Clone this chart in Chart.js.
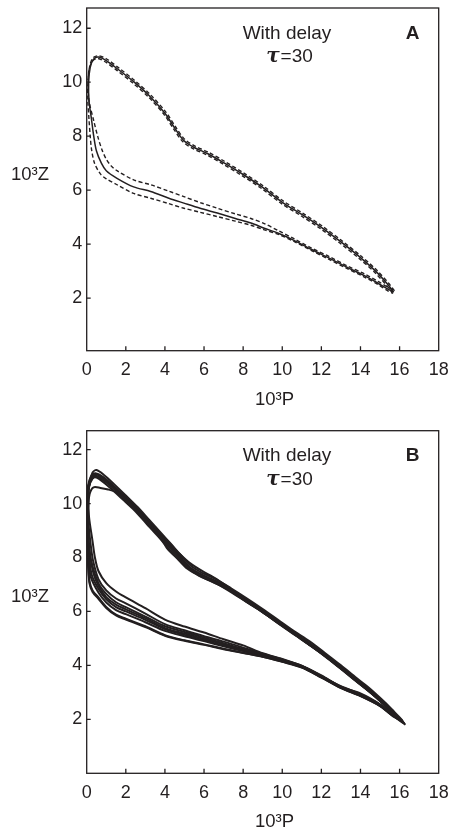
<!DOCTYPE html>
<html>
<head>
<meta charset="utf-8">
<script src="https://cdn.jsdelivr.net/npm/chart.js@4.4.1/dist/chart.umd.min.js"></script>
<style>
  html, body { margin: 0; padding: 0; background: #fff; }
  #wrap { position: relative; width: 457px; height: 829px; }
  canvas { position: absolute; left: 0; }
  #cA { top: 0; }
  #cB { top: 412px; }
</style>
</head>
<body>
<div id="wrap">
  <canvas id="cA" width="457" height="412"></canvas>
  <canvas id="cB" width="457" height="417"></canvas>
</div>
<script>
// ---- axis ticks / labels ----
const xTicks = [0, 2, 4, 6, 8, 10, 12, 14, 16, 18];
const yTicks = [2, 4, 6, 8, 10, 12];
const xTitle = '10³P';
const yTitle = '10³Z';
const noteLine1 = 'With delay';
const noteTau = 'τ';
const noteLine2 = '=30';

// ---- panel A: deterministic cycle (solid) with two dashed bounds, [P, Z] x 10^3 ----
const aSolid = [
  [15.7,2.22],[15.4,2.5],[14.8,2.98],[14.0,3.5],[13.0,4.08],[12.0,4.62],[11.0,5.1],[10.0,5.55],
  [9.0,6.1],[8.0,6.58],[7.0,7.02],[6.2,7.35],[5.5,7.58],[4.95,7.85],[4.5,8.3],[4.0,8.85],
  [3.2,9.5],[2.4,10.02],[1.6,10.48],[1.0,10.8],[0.6,10.93],[0.35,10.85],[0.18,10.55],[0.1,10.0],
  [0.12,9.3],[0.25,8.6],[0.36,8.0],[0.5,7.45],[0.75,7.0],[1.0,6.72],[1.55,6.44],[2.4,6.12],
  [3.27,5.95],[4.2,5.7],[4.97,5.52],[5.8,5.33],[6.68,5.15],[7.6,4.95],[8.4,4.78],[9.08,4.59],
  [9.8,4.4],[10.6,4.14],[11.5,3.8],[12.4,3.48],[13.3,3.15],[14.2,2.83],[14.9,2.55],[15.4,2.33],[15.7,2.22]
];
const aDashHigh = [
  [15.74,2.27],[15.44,2.55],[14.84,3.03],[14.04,3.55],[13.04,4.13],[12.04,4.67],[11.04,5.15],[10.04,5.6],
  [9.04,6.15],[8.04,6.63],[7.04,7.07],[6.24,7.4],[5.54,7.63],[4.99,7.9],[4.54,8.35],[4.04,8.9],
  [3.24,9.55],[2.44,10.07],[1.64,10.53],[1.04,10.85],[0.62,10.98],[0.33,10.91],[0.15,10.58],[0.07,10.0],
  [0.12,9.3],[0.35,8.6],[0.56,8.0],[0.78,7.5],[1.0,7.15],[1.25,6.9],[1.55,6.72],[2.4,6.38],
  [3.27,6.2],[4.2,5.96],[4.97,5.76],[5.8,5.54],[6.68,5.33],[7.6,5.12],[8.4,4.95],[9.08,4.76],
  [9.8,4.5],[10.6,4.2],[11.5,3.85],[12.4,3.54],[13.3,3.2],[14.2,2.9],[14.9,2.62],[15.4,2.4],[15.74,2.27]
];
const aDashLow = [
  [15.66,2.17],[15.36,2.45],[14.76,2.93],[13.96,3.45],[12.96,4.03],[11.96,4.57],[10.96,5.05],[9.96,5.5],
  [8.96,6.05],[7.96,6.53],[6.96,6.97],[6.16,7.3],[5.46,7.53],[4.91,7.8],[4.46,8.25],[3.96,8.8],
  [3.16,9.45],[2.36,9.97],[1.56,10.43],[0.96,10.75],[0.58,10.88],[0.31,10.8],[0.13,10.5],[0.06,10.0],
  [0.06,9.3],[0.12,8.6],[0.18,8.0],[0.25,7.5],[0.4,7.0],[0.7,6.6],[1.0,6.42],[1.55,6.2],
  [2.4,5.88],[3.27,5.7],[4.2,5.5],[4.97,5.33],[5.8,5.18],[6.68,5.02],[7.6,4.85],[8.4,4.7],
  [9.08,4.53],[9.8,4.36],[10.6,4.1],[11.5,3.76],[12.4,3.43],[13.3,3.1],[14.2,2.78],[14.9,2.5],[15.4,2.27],[15.66,2.17]
];

// ---- panel B: stochastic runs, one array per traced loop ----
const bLoop1 = [
  [16.15,1.95],[15.6,2.38],[15.0,2.8],[14.4,3.19],[13.8,3.53],[13.0,4.0],[12.2,4.45],[11.4,4.89],[10.6,5.27],
  [9.8,5.68],[9.0,6.09],[8.2,6.48],[7.4,6.85],[6.6,7.2],[5.9,7.43],[5.3,7.71],[4.8,8.1],[4.3,8.51],[3.8,8.91],
  [3.2,9.39],[2.6,9.87],[2.0,10.3],[1.4,10.72],[0.9,11.05],[0.5,11.24],[0.3,11.15],[0.15,10.8],[0.08,10.2],
  [0.12,9.5],[0.3,8.6],[0.42,8.0],[0.6,7.5],[1.0,7.05],[1.5,6.74],[2.0,6.52],[3.0,6.12],[4.0,5.7],[5.0,5.44],
  [6.0,5.22],[7.0,4.97],[8.0,4.74],[9.0,4.45],[10.0,4.24],[11.0,3.98],[12.0,3.63],[13.0,3.2],[14.0,2.96],
  [15.0,2.56],[15.6,2.22],[16.15,1.95]
];
const bLoop2 = [
  [16.05,1.98],[15.5,2.36],[14.9,2.76],[14.3,3.12],[13.7,3.47],[12.9,3.94],[12.1,4.4],[11.3,4.81],[10.5,5.22],
  [9.7,5.62],[8.9,6.02],[8.1,6.4],[7.3,6.8],[6.5,7.12],[5.8,7.35],[5.2,7.62],[4.7,8.0],[4.2,8.4],[3.7,8.8],
  [3.1,9.3],[2.5,9.78],[1.9,10.2],[1.5,10.42],[1.1,10.52],[0.7,10.58],[0.35,10.6],[0.15,10.35],[0.08,9.8],
  [0.1,9.2],[0.2,8.5],[0.32,7.9],[0.6,7.2],[1.0,6.78],[1.5,6.48],[2.0,6.3],[3.0,5.92],[4.0,5.53],[5.0,5.3],
  [6.0,5.08],[7.0,4.88],[8.0,4.66],[9.0,4.43],[10.0,4.22],[11.0,3.97],[12.0,3.6],[13.0,3.23],[14.0,2.93],
  [15.0,2.54],[15.6,2.2],[16.05,1.98]
];
const bLoop3 = [
  [16.25,1.85],[15.65,2.28],[15.05,2.7],[14.45,3.08],[13.85,3.43],[13.05,3.9],[12.25,4.35],[11.45,4.78],[10.65,5.18],
  [9.85,5.58],[9.05,6.0],[8.25,6.37],[7.45,6.74],[6.65,7.05],[5.95,7.28],[5.4,7.5],[4.9,7.8],[4.4,8.12],[4.1,8.35],
  [3.8,8.7],[3.2,9.22],[2.6,9.72],[2.0,10.15],[1.4,10.55],[0.9,10.86],[0.5,11.0],[0.25,10.9],[0.1,10.55],
  [0.04,9.9],[0.05,9.2],[0.12,8.5],[0.22,7.9],[0.6,7.05],[1.0,6.65],[1.5,6.34],[2.0,6.16],[3.0,5.81],[4.0,5.45],
  [5.0,5.24],[6.0,5.03],[7.0,4.82],[8.0,4.61],[9.0,4.4],[10.0,4.2],[11.0,3.99],[12.0,3.61],[13.0,3.21],
  [14.0,2.91],[15.0,2.55],[15.6,2.21],[16.25,1.85]
];
const bLoop4 = [
  [16.1,1.95],[15.55,2.32],[14.95,2.72],[14.35,3.1],[13.75,3.45],[12.95,3.93],[12.15,4.37],[11.35,4.79],[10.55,5.2],
  [9.75,5.6],[8.95,6.02],[8.15,6.39],[7.35,6.77],[6.55,7.1],[5.85,7.33],[5.25,7.6],[4.75,7.98],[4.25,8.4],[3.75,8.8],
  [3.15,9.28],[2.55,9.76],[1.95,10.18],[1.35,10.58],[0.85,10.88],[0.45,11.03],[0.2,10.9],[0.06,10.5],[0.02,9.9],
  [0.03,9.2],[0.1,8.5],[0.2,7.95],[0.35,7.4],[0.6,6.95],[1.0,6.53],[1.5,6.25],[2.0,6.08],[3.0,5.75],[4.0,5.38],
  [5.0,5.18],[6.0,4.98],[7.0,4.78],[8.0,4.58],[9.0,4.38],[10.0,4.18],[11.0,3.96],[12.0,3.58],[13.0,3.2],
  [14.0,2.9],[15.0,2.53],[15.6,2.19],[16.1,1.95]
];
const bLoop5 = [
  [16.2,1.88],[15.6,2.3],[15.0,2.71],[14.4,3.11],[13.8,3.45],[13.0,3.91],[12.2,4.37],[11.4,4.79],[10.6,5.2],
  [9.8,5.59],[9.0,6.03],[8.2,6.42],[7.4,6.82],[6.6,7.22],[5.9,7.5],[5.3,7.78],[4.8,8.1],[4.3,8.48],[3.8,8.85],
  [3.2,9.32],[2.6,9.8],[2.0,10.22],[1.4,10.62],[0.9,10.93],[0.5,11.08],[0.25,10.98],[0.08,10.6],[0.02,10.0],
  [0.02,9.2],[0.07,8.5],[0.14,7.95],[0.26,7.35],[0.6,6.84],[1.0,6.45],[1.5,6.16],[2.0,6.0],[3.0,5.69],[4.0,5.35],
  [5.0,5.13],[6.0,4.93],[7.0,4.74],[8.0,4.55],[9.0,4.36],[10.0,4.17],[11.0,3.95],[12.0,3.59],[13.0,3.19],
  [14.0,2.89],[15.0,2.52],[15.6,2.18],[16.2,1.88]
];
const bLoop6 = [
  [16.3,1.8],[15.7,2.21],[15.1,2.62],[14.5,3.0],[13.9,3.34],[13.1,3.81],[12.3,4.27],[11.5,4.7],[10.7,5.1],
  [9.9,5.5],[9.1,5.92],[8.3,6.29],[7.5,6.66],[6.7,7.0],[6.0,7.24],[5.4,7.49],[4.9,7.86],[4.4,8.29],[3.9,8.69],
  [3.3,9.18],[2.7,9.67],[2.1,10.09],[1.5,10.5],[1.0,10.8],[0.55,10.98],[0.3,10.92],[0.12,10.6],[0.05,10.05],
  [0.03,9.3],[0.05,8.6],[0.1,8.0],[0.2,7.3],[0.6,6.7],[1.0,6.33],[1.5,6.05],[2.0,5.9],[3.0,5.6],[4.0,5.28],
  [5.0,5.08],[6.0,4.9],[7.0,4.71],[8.0,4.53],[9.0,4.35],[10.0,4.16],[11.0,3.94],[12.0,3.57],[13.0,3.18],
  [14.0,2.88],[15.0,2.51],[15.6,2.17],[16.3,1.8]
];
const bLoop7 = [
  [16.0,2.02],[15.45,2.38],[14.85,2.78],[14.25,3.15],[13.65,3.5],[12.85,3.97],[12.05,4.42],[11.25,4.83],[10.45,5.24],
  [9.65,5.64],[8.85,6.05],[8.05,6.42],[7.25,6.8],[6.45,7.1],[5.75,7.32],[5.15,7.58],[4.65,7.95],[4.15,8.36],[3.65,8.78],
  [3.05,9.26],[2.45,9.74],[1.85,10.15],[1.25,10.55],[0.75,10.85],[0.4,10.98],[0.18,10.85],[0.05,10.4],[0.0,9.8],
  [0.0,9.0],[0.03,8.3],[0.07,7.7],[0.15,7.1],[0.3,6.78],[0.6,6.52],[1.0,6.17],[1.5,5.88],[2.0,5.73],[3.0,5.45],
  [4.0,5.12],[5.0,4.93],[6.0,4.78],[7.0,4.62],[8.0,4.47],[9.0,4.32],[10.0,4.14],[11.0,3.93],[12.0,3.56],
  [13.0,3.17],[14.0,2.87],[15.0,2.5],[15.6,2.16],[16.0,2.02]
];
const bLoop8 = [
  [16.2,1.9],[15.6,2.31],[15.0,2.73],[14.4,3.12],[13.8,3.46],[13.0,3.93],[12.2,4.39],[11.4,4.81],[10.6,5.21],
  [9.8,5.61],[9.0,6.04],[8.2,6.41],[7.4,6.79],[6.6,7.13],[5.9,7.36],[5.3,7.63],[4.8,8.02],[4.3,8.43],[3.8,8.83],
  [3.2,9.31],[2.6,9.79],[2.0,10.21],[1.4,10.63],[0.9,10.95],[0.45,11.12],[0.22,11.0],[0.07,10.65],[0.01,10.0],
  [0.01,9.2],[0.04,8.4],[0.08,7.7],[0.14,7.05],[0.3,6.72],[0.6,6.47],[1.0,6.13],[1.5,5.85],[2.0,5.7],[3.0,5.42],
  [4.0,5.1],[5.0,4.91],[6.0,4.76],[7.0,4.6],[8.0,4.46],[9.0,4.32],[10.0,4.13],[11.0,3.92],[12.0,3.55],
  [13.0,3.16],[14.0,2.86],[15.0,2.49],[15.6,2.15],[16.2,1.9]
];
const bLoops = [bLoop1, bLoop2, bLoop3, bLoop4, bLoop5, bLoop6, bLoop7, bLoop8];

const INK = '#231f20';
const FONT = "'Liberation Sans', Arial, Helvetica, sans-serif";

const toXY = arr => arr.map(([x, y]) => ({ x, y }));

function trace(data, width, dash) {
  return {
    data: toXY(data),
    showLine: true,
    borderColor: INK,
    borderWidth: width,
    borderDash: dash || [],
    pointRadius: 0,
    pointHoverRadius: 0,
    tension: 0.3,
    fill: false
  };
}

// frame, inward tick marks and all annotation text
const frameText = {
  id: 'frameText',
  afterDraw(chart, args, opts) {
    const { ctx, chartArea: a, scales } = chart;
    ctx.save();
    ctx.strokeStyle = INK;
    ctx.lineWidth = 1.3;
    ctx.strokeRect(a.left, a.top, a.right - a.left, a.bottom - a.top);

    ctx.beginPath();
    xTicks.forEach(v => {
      if (v <= 0 || v >= 18) return;
      const px = scales.x.getPixelForValue(v);
      ctx.moveTo(px, a.bottom);
      ctx.lineTo(px, a.bottom - 4.5);
    });
    yTicks.forEach(v => {
      const py = scales.y.getPixelForValue(v);
      ctx.moveTo(a.left, py);
      ctx.lineTo(a.left + 4, py);
    });
    ctx.stroke();

    ctx.fillStyle = INK;
    ctx.textBaseline = 'middle';
    ctx.textAlign = 'center';
    ctx.font = '19px ' + FONT;
    ctx.fillText(noteLine1, 287, a.top + 25.5);

    // tau line: italic tau + "=30", centred as one piece
    const tauFont = "italic bold 20px 'DejaVu Serif', serif";
    ctx.font = tauFont;
    const wTau = ctx.measureText(noteTau).width;
    ctx.font = '19px ' + FONT;
    const wRest = ctx.measureText(noteLine2).width;
    const x0 = 289 - (wTau + wRest) / 2;
    ctx.textAlign = 'left';
    ctx.font = tauFont;
    ctx.fillText(noteTau, x0, a.top + 49);
    ctx.font = '19px ' + FONT;
    ctx.fillText(noteLine2, x0 + wTau + 1, a.top + 49);

    ctx.textAlign = 'center';
    ctx.font = 'bold 19px ' + FONT;
    ctx.fillText(opts.letter, 412.5, a.top + 25.5);

    ctx.font = '18.5px ' + FONT;
    ctx.fillText(yTitle, 30, a.top + 166.5);
    ctx.fillText(xTitle, 274.5, a.bottom + 49);
    ctx.restore();
  }
};

function makeOptions(yMin, yMax, topPad, xAxisHeight, letter) {
  return {
    responsive: false,
    animation: false,
    events: [],
    layout: { padding: { left: 0, right: 18.3, top: topPad, bottom: 0 } },
    plugins: {
      legend: { display: false },
      tooltip: { enabled: false },
      frameText: { letter }
    },
    scales: {
      x: {
        type: 'linear',
        min: 0,
        max: 18,
        afterBuildTicks: s => { s.ticks = xTicks.map(v => ({ value: v })); },
        afterFit: s => { s.height = xAxisHeight; s.paddingLeft = 0; s.paddingRight = 0; },
        grid: { display: false, drawTicks: false },
        border: { display: false },
        ticks: { color: INK, font: { family: FONT, size: 18 }, padding: 9, maxRotation: 0 }
      },
      y: {
        type: 'linear',
        min: yMin,
        max: yMax,
        afterBuildTicks: s => { s.ticks = yTicks.map(v => ({ value: v })); },
        afterFit: s => { s.width = 86.7; s.paddingTop = 0; s.paddingBottom = 0; },
        grid: { display: false, drawTicks: false },
        border: { display: false },
        ticks: { color: INK, font: { family: FONT, size: 18 }, padding: 4.5 }
      }
    }
  };
}

new Chart(document.getElementById('cA'), {
  type: 'scatter',
  data: {
    datasets: [
      trace(aSolid, 1.5),
      trace(aDashHigh, 1.4, [4, 2.5]),
      trace(aDashLow, 1.4, [4, 2.5])
    ]
  },
  options: makeOptions(0.05, 12.75, 8, 61.3, 'A'),
  plugins: [frameText]
});

new Chart(document.getElementById('cB'), {
  type: 'scatter',
  data: { datasets: bLoops.map(l => trace(l, 2)) },
  options: makeOptions(0, 12.7, 18.7, 55.7, 'B'),
  plugins: [frameText]
});
</script>
</body>
</html>
